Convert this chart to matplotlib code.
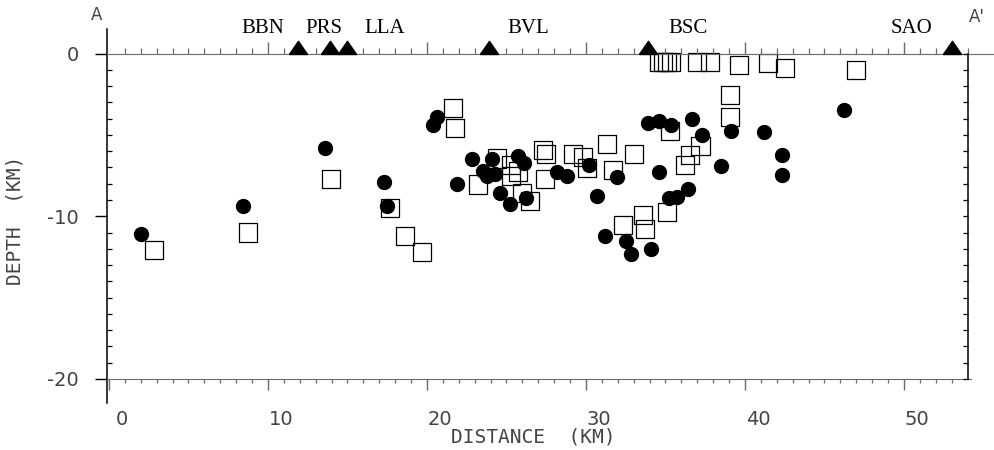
import matplotlib
matplotlib.use("Agg")
import matplotlib.pyplot as plt
import matplotlib.transforms as mtrans
from matplotlib.ticker import FixedLocator

plt.rcParams['axes.unicode_minus'] = False

# seismic stations along the profile
station_names = ['BBN', 'PRS', 'LLA', 'BVL', 'BSC', 'SAO']
station_dist = [11.9, 13.9, 15.0, 23.9, 33.9, 53.0]
label_x = [9.7, 13.5, 17.35, 26.35, 36.4, 50.5]

# filled circles
dist_a = [2.0, 8.4, 13.6, 17.3, 17.5, 20.6, 20.4, 22.8, 21.9, 24.1,
          23.5, 23.8, 24.3, 24.6, 25.2, 25.7, 26.1, 26.2, 28.2, 28.8,
          30.2, 30.7, 31.95, 31.2, 32.5, 32.8, 34.1, 34.6, 35.2, 35.7,
          36.4, 33.9, 34.6, 35.35, 36.65, 37.3, 38.5, 39.1, 41.2, 42.3,
          42.3, 46.2]
depth_a = [-11.1, -9.4, -5.8, -7.9, -9.4, -3.9, -4.4, -6.5, -8.0, -6.5,
           -7.2, -7.5, -7.4, -8.6, -9.25, -6.3, -6.75, -8.9, -7.3, -7.55,
           -6.85, -8.75, -7.6, -11.2, -11.5, -12.3, -12.0, -7.3, -8.9, -8.8,
           -8.35, -4.3, -4.15, -4.4, -4.05, -5.0, -6.9, -4.75, -4.85, -6.25,
           -7.45, -3.5]

# open squares
dist_b = [2.85, 8.75, 13.95, 17.65, 18.6, 19.7, 21.65, 21.75, 23.2, 24.4,
          25.3, 25.3, 25.7, 25.95, 26.5, 27.3, 27.5, 27.45, 29.2, 29.8,
          30.05, 31.3, 31.7, 33.0, 32.3, 33.6, 33.7, 35.1, 35.3, 37.2,
          36.55, 36.2, 39.05, 39.05, 34.6, 34.85, 35.1, 35.35, 37.0, 37.8,
          39.6, 41.45, 42.5, 47.0]
depth_b = [-12.1, -11.0, -7.7, -9.5, -11.2, -12.2, -3.35, -4.6, -8.05, -6.45,
           -6.85, -7.5, -7.25, -8.6, -9.05, -5.95, -6.15, -7.7, -6.15, -6.35,
           -7.05, -5.55, -7.15, -6.15, -10.55, -9.9, -10.8, -9.75, -4.75, -5.7,
           -6.25, -6.85, -2.55, -3.9, -0.5, -0.5, -0.5, -0.5, -0.5, -0.5,
           -0.7, -0.6, -0.9, -1.0]

xticks = [0, 10, 20, 30, 40, 50]
yticks = [0, -10, -20]

fig = plt.figure(figsize=(9.95, 4.5), dpi=100)
ax = fig.add_axes([0.10794, 0.10356, 0.86452, 0.83178])
ax.set_xlim(-0.1, 54)
ax.set_ylim(-21.5, 1.5)

gray = '#6a6a6a'
txt = '#444444'

ax.scatter(dist_b, depth_b, s=169, marker='s', facecolors='none',
           edgecolors='black', linewidths=0.9, zorder=3)
ax.scatter(dist_a, depth_a, s=100, marker='o', color='black', zorder=4)

for name, lx in zip(station_names, label_x):
    ax.text(lx, 1.26, name, ha='center', va='baseline', fontsize=15,
            family='Liberation Serif', clip_on=False)

# left and bottom axes
for s in ['top', 'right']:
    ax.spines[s].set_visible(False)
ax.spines['left'].set_bounds(-21.5, 1.5)
ax.spines['left'].set_linewidth(1.1)
ax.spines['bottom'].set_position(('data', -20))
ax.spines['bottom'].set_bounds(-0.1, 54.2)
ax.spines['bottom'].set_color(gray)

ax.set_xticks(xticks)
ax.set_xticklabels([str(v) for v in xticks])
ax.xaxis.set_minor_locator(FixedLocator([v for v in range(1, 54) if v % 10]))
ax.tick_params(axis='x', which='major', direction='out', length=8, width=1,
               color=gray, pad=14, labelsize=14, labelcolor=txt)
ax.tick_params(axis='x', which='minor', direction='out', length=3, width=0.9,
               color=gray)
off = mtrans.ScaledTranslation(0.13, 0, fig.dpi_scale_trans)
for lab in ax.get_xticklabels():
    lab.set_transform(lab.get_transform() + off)

ax.set_yticks(yticks)
ax.set_yticklabels([str(v) for v in yticks])
ax.yaxis.set_minor_locator(FixedLocator([v for v in range(-19, 0) if v != -10]))
ax.tick_params(axis='y', which='major', direction='out', length=8.6, width=1,
               pad=12, labelsize=14, labelcolor=txt)
ax.tick_params(axis='y', which='minor', direction='in', length=3.6, width=0.9)

# zero line with station ticks on top
axt = ax.twiny()
axt.set_xlim(ax.get_xlim())
for s in ['bottom', 'left', 'right']:
    axt.spines[s].set_visible(False)
axt.spines['top'].set_position(('data', 0))
axt.spines['top'].set_bounds(-0.1, 55.6)
axt.spines['top'].set_color(gray)
axt.set_xticks(xticks[1:])
axt.set_xticklabels([])
axt.xaxis.set_minor_locator(FixedLocator([v for v in range(1, 56) if v % 10]))
axt.tick_params(axis='x', which='major', direction='out', length=8.6, width=1,
                color=gray)
axt.tick_params(axis='x', which='minor', direction='out', length=4.3,
                width=0.9, color=gray)

# station triangles sit on the zero line
tri = [(-1, 0), (1, 0), (0, 1.45), (-1, 0)]
axt.scatter(station_dist, [0] * len(station_dist), s=19 ** 2, marker=tri,
            color='black', zorder=10, clip_on=False)

# right axis
axr = ax.twinx()
axr.set_ylim(ax.get_ylim())
for s in ['top', 'bottom', 'left']:
    axr.spines[s].set_visible(False)
axr.spines['right'].set_bounds(-20, 0)
axr.spines['right'].set_linewidth(1.1)
axr.yaxis.set_major_locator(FixedLocator(list(range(-20, 1))))
axr.set_yticklabels([])
axr.tick_params(axis='y', which='major', direction='in', length=3.6, width=0.9)

fig.text(0.0975, 0.967, 'A', fontsize=12, color=txt, ha='center', va='center')
fig.text(0.982, 0.962, "A'", fontsize=12, color=txt, ha='center', va='center')
fig.text(0.536, 0.029, 'DISTANCE  (KM)', family='DejaVu Sans Mono',
         fontsize=14, color=txt, ha='center', va='center')
fig.text(0.015, 0.511, 'DEPTH  (KM)', family='DejaVu Sans Mono', fontsize=14,
         color=txt, ha='center', va='center', rotation=90)

fig.savefig('out.png', dpi=100)
